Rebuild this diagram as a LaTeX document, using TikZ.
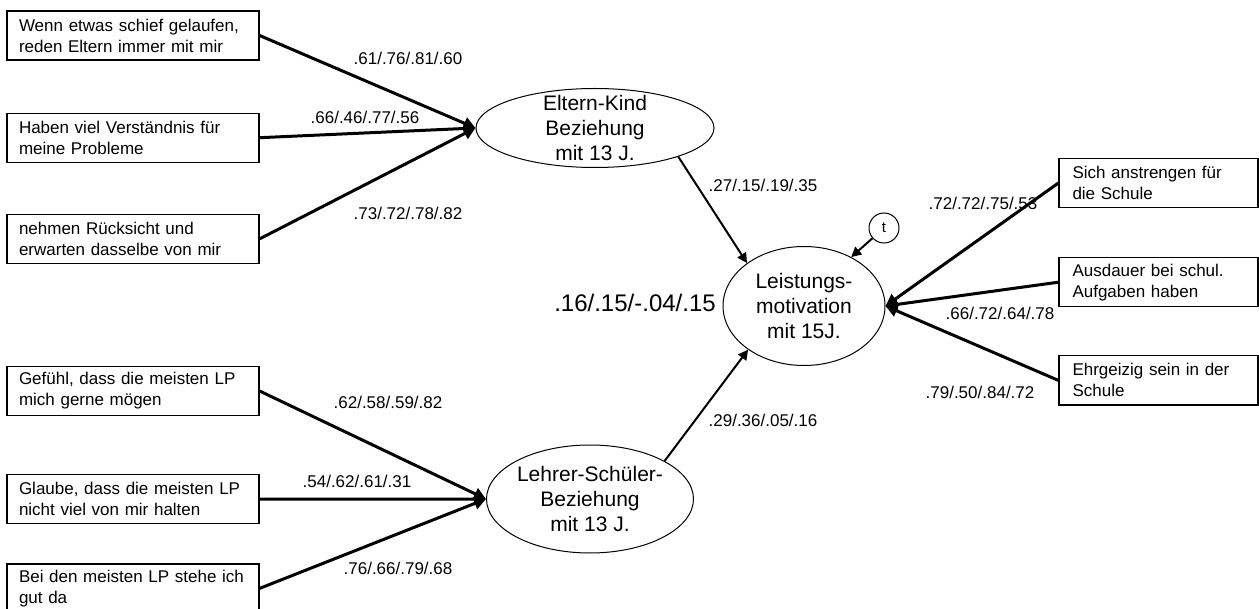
\documentclass[tikz,border=0pt]{standalone}
\usepackage{fontspec}
\setmainfont{Liberation Sans}
\usepackage{tikz}
\usetikzlibrary{arrows.meta, shapes.geometric, positioning}
\tikzset{
>={Triangle[length=6pt,width=6pt]}, % filled arrow heads
item/.style={draw, line width=0.6pt, rectangle, minimum width=126pt, minimum height=24.5pt,
  text width=114pt, inner xsep=6pt, inner ysep=2pt, align=left,
  font=\fontsize{8.5}{10.5}\selectfont}, % observed indicators on the left
ritem/.style={item, minimum width=99.5pt, text width=86pt, inner xsep=6.75pt}, % indicators on the right
factor/.style={draw, ellipse, line width=0.5pt, inner sep=-6pt, align=center,
  font=\fontsize{10.5}{12.5}\selectfont}, % latent variables
coef/.style={font=\fontsize{8.5}{10}\selectfont, inner sep=1pt}, % path coefficients
load/.style={->, line width=1.5pt}, % loadings
path/.style={->, line width=1pt, >={Triangle[length=5pt,width=5pt]}},
}

\begin{document}
\begin{tikzpicture}[x=0.5pt, y=-0.5pt]%coordinates in pixels of the original
  \useasboundingbox (0,0) rectangle (1259,609);

  % parents
  \node[item] (ek1) at (133,35.5) {Wenn etwas schief gelaufen,\\reden Eltern immer mit mir};
  \node[item, below=26pt of ek1] (ek2) {Haben viel Verständnis für\\meine Probleme};
  \node[item, below=25.5pt of ek2] (ek3) {nehmen Rücksicht und\\erwarten dasselbe von mir};
  \node[factor, minimum width=119pt, minimum height=39.5pt] (ek) at (595,128) {Eltern-Kind\\Beziehung\\mit 13 J.};

  % teachers
  \node[item] (ls1) at (133,391) {Gefühl, dass die meisten LP\\mich gerne mögen};
  \node[item, below=29pt of ls1] (ls2) {Glaube, dass die meisten LP\\nicht viel von mir halten};
  \node[item, below=19.5pt of ls2] (ls3) {Bei den meisten LP stehe ich\\gut da};
  \node[factor, minimum width=103.5pt, minimum height=54pt] (ls) at (590,499) {Lehrer-Schüler-\\Beziehung\\mit 13 J.};

  % motivation
  \node[factor, minimum width=81pt, minimum height=59.5pt] (lm) at (804,306) {Leistungs-\\motivation\\mit 15J.};
  \node[draw, circle, line width=0.5pt, minimum size=15pt, inner sep=0pt,
    font=\fontsize{7.5}{8}\selectfont] (t) at (884,228) {t};
  \node[ritem] (lm1) at (1158.5,183) {Sich anstrengen für\\die Schule};
  \node[ritem, below=24.5pt of lm1] (lm2) {Ausdauer bei schul.\\Aufgaben haben};
  \node[ritem, below=24pt of lm2] (lm3) {Ehrgeizig sein in der\\Schule};

  \draw[load] (ek1.east) -- (ek.west);
  \draw[load] (ek2.east) -- (ek.west);
  \draw[load] (ek3.east) -- (ek.west);
  \draw[load] (ls1.east) -- (ls.west);
  \draw[load] (ls2.east) -- (ls.west);
  \draw[load] (ls3.east) -- (ls.west);
  \draw[load] (lm1.west) -- (lm.east);
  \draw[load] (lm2.west) -- (lm.east);
  \draw[load] (lm3.west) -- (lm.east);
  \draw[path] (ek.-19) -- (lm.143);
  \draw[path] (ls.27) -- (lm.218);
  \draw[path] (t) -- (lm.46);

  \node[coef] (c1) at (408,58) {.61/.76/.81/.60};
  \node[coef] (c2) at (365,117) {.66/.46/.77/.56};
  \node[coef] (c3) at (408,213) {.73/.72/.78/.82};
  \node[coef] (c4) at (388,402) {.62/.58/.59/.82};
  \node[coef] (c5) at (357,481) {.54/.62/.61/.31};
  \node[coef] (c6) at (398,568) {.76/.66/.79/.68};
  \node[coef] (c7) at (983,203) {.72/.72/.75/.53};
  \node[coef] (c8) at (1000,313) {.66/.72/.64/.78};
  \node[coef] (c9) at (980,392) {.79/.50/.84/.72};
  \node[coef] (cek) at (763,185) {.27/.15/.19/.35};
  \node[coef] (cls) at (763,420) {.29/.36/.05/.16};
  \node[coef, font=\fontsize{12}{14}\selectfont] (cr) at (635,303) {.16/.15/-.04/.15};
\end{tikzpicture}
\end{document}
